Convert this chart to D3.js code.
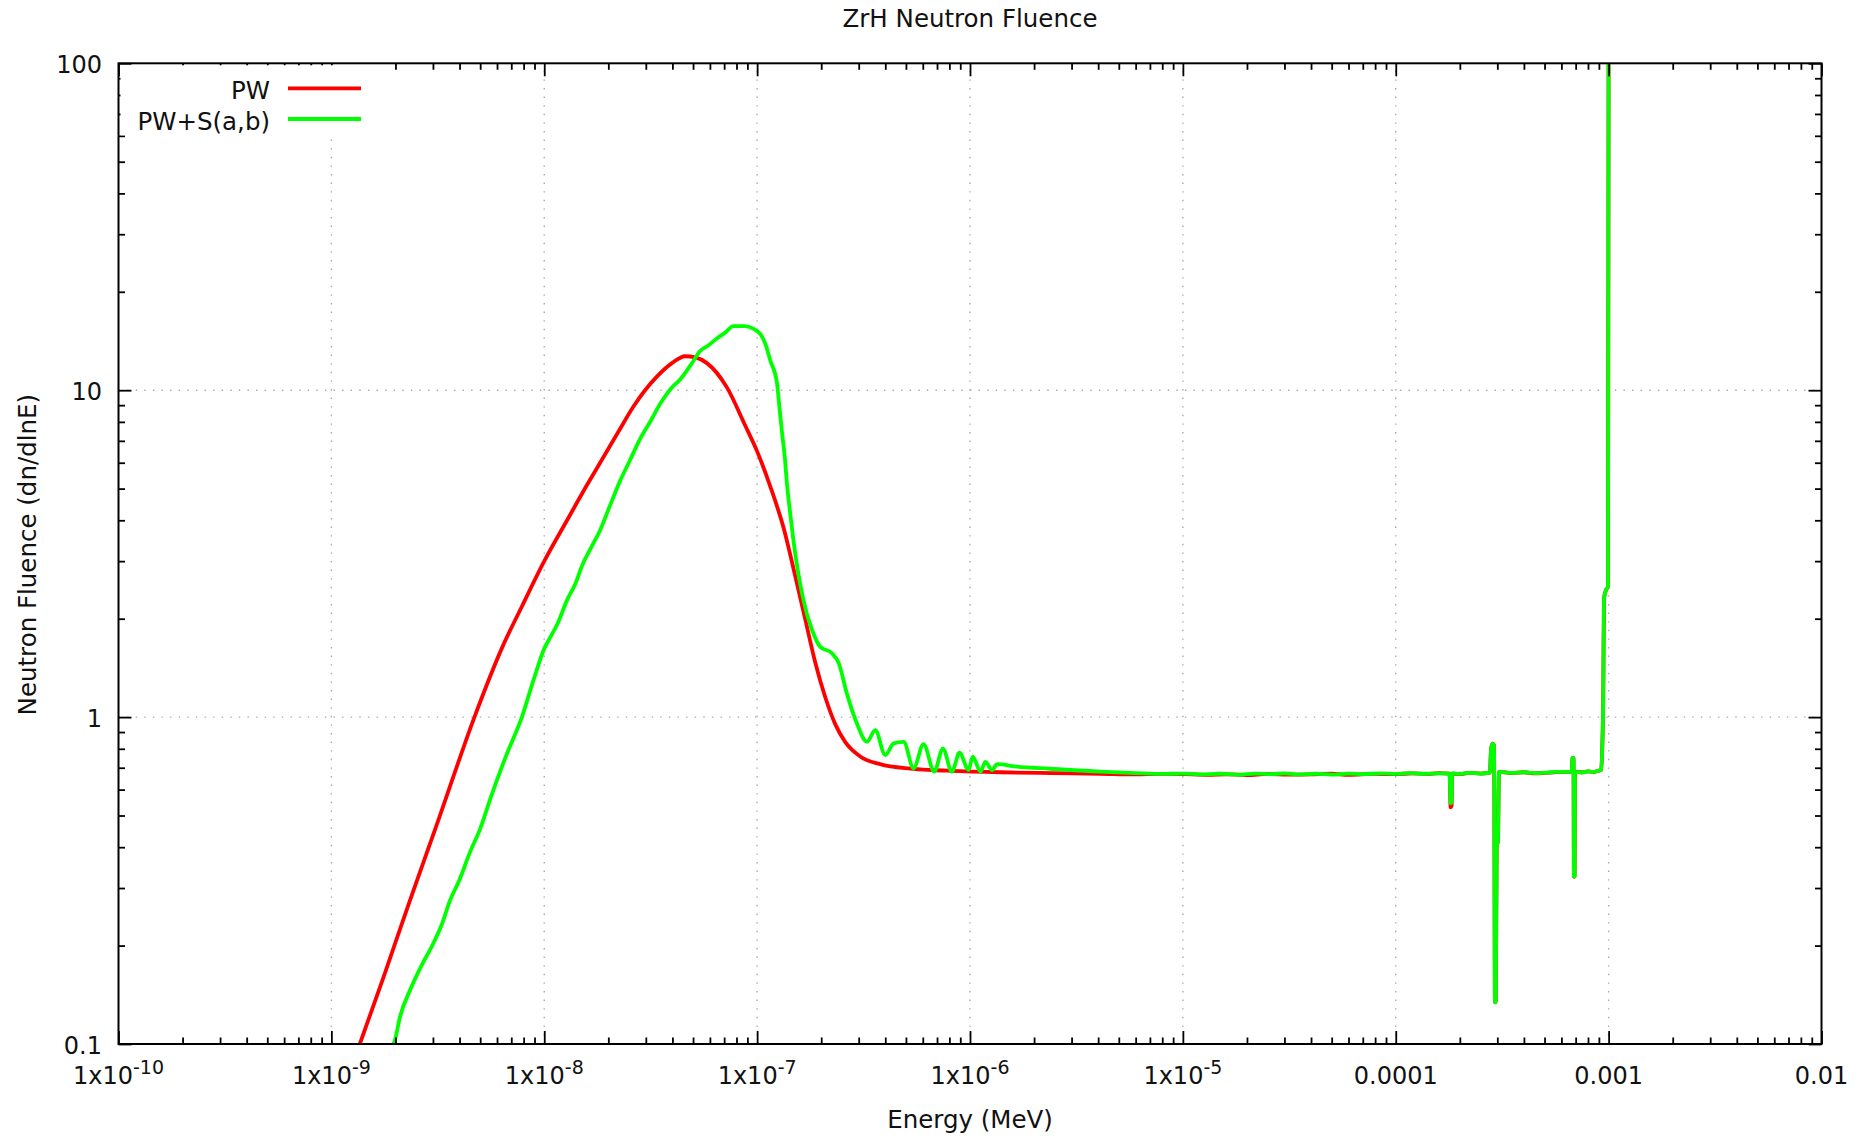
<!DOCTYPE html>
<html><head><meta charset="utf-8">
<script src="https://cdn.jsdelivr.net/npm/d3@7"></script>
<style>
body{margin:0;background:#fff}
svg{display:block}
text{font-family:"DejaVu Sans",sans-serif;fill:#111}
</style>
</head><body>
<svg id="c" width="1860" height="1138"></svg>
<script>
const title = "ZrH Neutron Fluence";
const xLabel = "Energy (MeV)";
const yLabel = "Neutron Fluence (dn/dlnE)";
const seriesNames = ["PW", "PW+S(a,b)"];
const seriesColors = ["#ff0000", "#00ff00"];

const xMajorTicks = [1e-10, 1e-9, 1e-8, 1e-7, 1e-6, 1e-5, 1e-4, 1e-3, 1e-2];
const xTickBase = ["1x10", "1x10", "1x10", "1x10", "1x10", "1x10", "0.0001", "0.001", "0.01"];
const xTickSup = ["-10", "-9", "-8", "-7", "-6", "-5", "", "", ""];
const yMajorTicks = [0.1, 1, 10, 100];
const yTickLabels = ["0.1", "1", "10", "100"];

// PW (red)
const pwEnergy = [1.30e-9, 1.36e-9, 1.78e-9, 2.34e-9, 3.16e-9, 4.70e-9, 6.31e-9, 7.85e-9, 1.00e-8, 1.28e-8,
  1.58e-8, 1.83e-8, 2.24e-8, 2.62e-8, 3.38e-8, 3.98e-8, 4.59e-8, 5.13e-8, 5.81e-8, 7.21e-8,
  8.79e-8, 1.00e-7, 1.15e-7, 1.33e-7, 1.51e-7, 1.68e-7, 1.87e-7, 2.09e-7, 2.33e-7, 2.59e-7,
  3.05e-7, 3.78e-7, 5.24e-7, 6.60e-7, 8.07e-7, 1.39e-6, 2.40e-6, 4.09e-6, 6.0e-6, 8.0e-6,
  1.0e-5, 1.3e-5, 1.6e-5, 2.0e-5, 2.5e-5, 3.2e-5, 4.0e-5, 5.0e-5, 6.0e-5, 8.0e-5,
  1.0e-4, 1.2e-4, 1.4e-4, 1.6e-4, 1.79e-4, 1.81e-4, 1.83e-4, 1.84e-4, 2.0e-4, 2.2e-4,
  2.5e-4, 2.767e-4, 2.805e-4, 2.85e-4, 2.897e-4, 2.924e-4, 2.951e-4, 2.979e-4, 3.02e-4, 3.055e-4,
  3.5e-4, 4.0e-4, 4.5e-4, 5.0e-4, 5.7e-4, 6.5e-4, 6.71e-4, 6.76e-4, 6.84e-4, 6.87e-4,
  6.92e-4, 6.95e-4, 7.5e-4, 8.0e-4, 8.5e-4, 8.9e-4, 9.23e-4, 9.33e-4, 9.44e-4, 9.51e-4,
  9.73e-4, 9.93e-4, 1.002e-3];
const pwFluence = [0.092, 0.100, 0.164, 0.275, 0.478, 1.00, 1.62, 2.18, 3.00, 4.00,
  5.10, 6.00, 7.50, 8.90, 11.0, 12.1, 12.7, 12.6, 12.1, 10.2,
  7.80, 6.50, 5.10, 3.80, 2.70, 2.00, 1.48, 1.15, 0.950, 0.840,
  0.758, 0.718, 0.696, 0.689, 0.685, 0.678, 0.674, 0.671, 0.668, 0.670,
  0.669, 0.666, 0.668, 0.665, 0.670, 0.667, 0.668, 0.671, 0.666, 0.670,
  0.669, 0.673, 0.670, 0.674, 0.672, 0.530, 0.535, 0.672, 0.669, 0.675,
  0.672, 0.676, 0.80, 0.83, 0.82, 0.134, 0.135, 0.40, 0.42, 0.68,
  0.674, 0.678, 0.673, 0.675, 0.679, 0.680, 0.680, 0.75, 0.75, 0.325,
  0.325, 0.68, 0.678, 0.682, 0.679, 0.685, 0.69, 0.80, 1.2, 2.3,
  2.45, 2.5, 400];

// PW+S(a,b) (green)
const sabEnergy = [1.89e-9, 1.99e-9, 2.10e-9, 2.34e-9, 2.63e-9, 3.01e-9, 3.30e-9, 3.61e-9, 4.00e-9, 4.47e-9,
  5.00e-9, 5.62e-9, 6.61e-9, 7.85e-9, 8.91e-9, 1.00e-8, 1.07e-8, 1.15e-8, 1.28e-8, 1.40e-8,
  1.51e-8, 1.66e-8, 1.83e-8, 2.04e-8, 2.28e-8, 2.51e-8, 2.82e-8, 3.16e-8, 3.51e-8, 3.98e-8,
  4.36e-8, 4.90e-8, 5.41e-8, 5.89e-8, 6.47e-8, 7.08e-8, 7.74e-8, 8.71e-8, 9.62e-8, 1.04e-7,
  1.10e-7, 1.15e-7, 1.24e-7, 1.27e-7, 1.31e-7, 1.35e-7, 1.38e-7, 1.43e-7, 1.48e-7, 1.65e-7,
  1.81e-7, 1.98e-7, 2.24e-7, 2.42e-7, 2.64e-7, 2.94e-7, 3.28e-7, 3.59e-7, 4.00e-7, 4.38e-7,
  4.88e-7, 5.43e-7, 6.05e-7, 6.79e-7, 7.46e-7, 8.22e-7, 8.93e-7, 9.84e-7, 1.03e-6, 1.12e-6,
  1.18e-6, 1.27e-6, 1.34e-6, 1.66e-6, 2.38e-6, 4.09e-6, 6.0e-6, 8.0e-6, 1.0e-5, 1.2e-5,
  1.5e-5, 1.8e-5, 2.2e-5, 2.6e-5, 3.0e-5, 3.5e-5, 4.2e-5, 5.0e-5, 6.0e-5, 7.0e-5,
  8.5e-5, 1.0e-4, 1.15e-4, 1.3e-4, 1.6e-4, 1.79e-4, 1.81e-4, 1.83e-4, 1.84e-4, 2.0e-4,
  2.2e-4, 2.5e-4, 2.767e-4, 2.805e-4, 2.85e-4, 2.897e-4, 2.924e-4, 2.951e-4, 2.979e-4, 3.02e-4,
  3.055e-4, 3.5e-4, 4.0e-4, 4.5e-4, 5.0e-4, 5.7e-4, 6.5e-4, 6.71e-4, 6.76e-4, 6.84e-4,
  6.87e-4, 6.92e-4, 6.95e-4, 7.5e-4, 8.0e-4, 8.5e-4, 8.9e-4, 9.23e-4, 9.33e-4, 9.44e-4,
  9.51e-4, 9.73e-4, 9.93e-4, 1.002e-3];
const sabFluence = [0.095, 0.103, 0.121, 0.146, 0.172, 0.203, 0.232, 0.275, 0.318, 0.385,
  0.455, 0.57, 0.76, 1.00, 1.30, 1.62, 1.76, 1.92, 2.28, 2.56,
  2.92, 3.30, 3.73, 4.45, 5.31, 6.05, 7.10, 8.05, 9.10, 10.2,
  10.8, 12.0, 13.2, 13.7, 14.4, 15.0, 15.7, 15.7, 15.4, 14.8,
  13.7, 12.4, 10.5, 9.0, 7.38, 6.2, 5.19, 4.2, 3.48, 2.28,
  1.85, 1.64, 1.57, 1.46, 1.18, 0.958, 0.84, 0.912, 0.765, 0.831,
  0.84, 0.697, 0.827, 0.681, 0.801, 0.681, 0.778, 0.689, 0.757, 0.681,
  0.729, 0.689, 0.718, 0.705, 0.695, 0.681, 0.674, 0.670, 0.672, 0.668,
  0.671, 0.667, 0.672, 0.669, 0.673, 0.668, 0.671, 0.667, 0.672, 0.669,
  0.673, 0.670, 0.674, 0.671, 0.673, 0.672, 0.545, 0.55, 0.673, 0.670,
  0.675, 0.672, 0.676, 0.80, 0.83, 0.82, 0.134, 0.135, 0.40, 0.42,
  0.68, 0.675, 0.678, 0.674, 0.676, 0.680, 0.680, 0.680, 0.75, 0.75,
  0.325, 0.325, 0.68, 0.677, 0.682, 0.680, 0.685, 0.69, 0.80, 1.2,
  2.3, 2.45, 2.5, 400];

const W = 1860, H = 1138;
const L = 118.5, R = 1821.5, T = 63.3, B = 1044;
const svg = d3.select("#c");

const x = d3.scaleLog().domain([1e-10, 1e-2]).range([L, R]);
const y = d3.scaleLog().domain([0.1, 100]).range([B, T]);

const minor = (majors) => {
  const out = [];
  for (let i = 0; i < majors.length - 1; i++)
    for (let k = 2; k <= 9; k++) out.push(majors[i] * k);
  return out;
};
const xMinor = minor(xMajorTicks), yMinor = minor(yMajorTicks);

// grid
const grid = svg.append("g").attr("stroke", "#a8a8a8").attr("stroke-width", 1.4)
  .attr("stroke-dasharray", "1.4,7.2");
grid.selectAll(".gx").data(xMajorTicks.slice(1, -1)).join("line")
  .attr("x1", d => x(d)).attr("x2", d => x(d)).attr("y1", B).attr("y2", T);
grid.selectAll(".gy").data(yMajorTicks.slice(1, -1)).join("line")
  .attr("x1", L).attr("x2", R).attr("y1", d => y(d)).attr("y2", d => y(d));

// curves
svg.append("clipPath").attr("id", "clip").append("rect")
  .attr("x", L).attr("y", T).attr("width", R - L).attr("height", B - T);
const line = d3.line().x(d => x(d[0])).y(d => y(d[1])).curve(d3.curveMonotoneX);
const series = [
  d3.zip(pwEnergy, pwFluence),
  d3.zip(sabEnergy, sabFluence)
];
const curves = svg.append("g").attr("clip-path", "url(#clip)");
series.forEach((s, i) => {
  curves.append("path").datum(s).attr("d", line)
    .attr("fill", "none").attr("stroke", seriesColors[i]).attr("stroke-width", 3.8)
    .attr("stroke-linejoin", "round").attr("stroke-linecap", "round");
});

// axes ticks (inward)
function axisG(gen, vals, size, tx, ty) {
  const g = svg.append("g").attr("transform", `translate(${tx},${ty})`)
    .call(gen.tickValues(vals).tickSize(-size).tickSizeOuter(0).tickFormat(""));
  g.select(".domain").remove();
  g.selectAll(".tick line").attr("stroke", "#000").attr("stroke-width", 1.8);
}
[[xMajorTicks, 13], [xMinor, 6.5]].forEach(([v, s]) => {
  axisG(d3.axisBottom(x), v, s, 0, B);
  axisG(d3.axisTop(x), v, s, 0, T);
});
[[yMajorTicks, 13], [yMinor, 6.5]].forEach(([v, s]) => {
  axisG(d3.axisLeft(y), v, s, L, 0);
  axisG(d3.axisRight(y), v, s, R, 0);
});

// border
svg.append("rect").attr("x", L).attr("y", T).attr("width", R - L).attr("height", B - T)
  .attr("fill", "none").attr("stroke", "#000").attr("stroke-width", 2);

// tick labels
const xl = svg.append("g").attr("font-size", 24).attr("text-anchor", "middle");
xMajorTicks.forEach((t, i) => {
  const tx = xl.append("text").attr("x", x(t)).attr("y", 1084);
  tx.append("tspan").text(xTickBase[i]);
  if (xTickSup[i]) tx.append("tspan").attr("dy", -10).attr("font-size", 19).text(xTickSup[i]);
});
svg.append("g").attr("font-size", 24).attr("text-anchor", "end")
  .selectAll("text").data(yMajorTicks).join("text")
  .attr("x", 102).attr("y", d => y(d) + 9.5).text((d, i) => yTickLabels[i]);

// titles
svg.append("text").attr("x", (L + R) / 2).attr("y", 27).attr("text-anchor", "middle")
  .attr("font-size", 24.5).text(title);
svg.append("text").attr("x", (L + R) / 2).attr("y", 1128).attr("text-anchor", "middle")
  .attr("font-size", 24.5).text(xLabel);
svg.append("text").attr("transform", `translate(36,${(T + B) / 2 + 1}) rotate(-90)`)
  .attr("text-anchor", "middle").attr("font-size", 24.5).text(yLabel);

// legend
const lg = svg.append("g");
lg.append("rect").attr("x", L + 2).attr("y", T + 2).attr("width", 255).attr("height", 70).attr("fill", "#fff");
seriesNames.forEach((n, i) => {
  const ly = 88.3 + i * 30.7;
  lg.append("text").attr("x", 270).attr("y", ly + 10.5).attr("text-anchor", "end")
    .attr("font-size", 24.5).text(n);
  lg.append("line").attr("x1", 288).attr("x2", 361).attr("y1", ly).attr("y2", ly)
    .attr("stroke", seriesColors[i]).attr("stroke-width", 3.8);
});
</script>
</body></html>
